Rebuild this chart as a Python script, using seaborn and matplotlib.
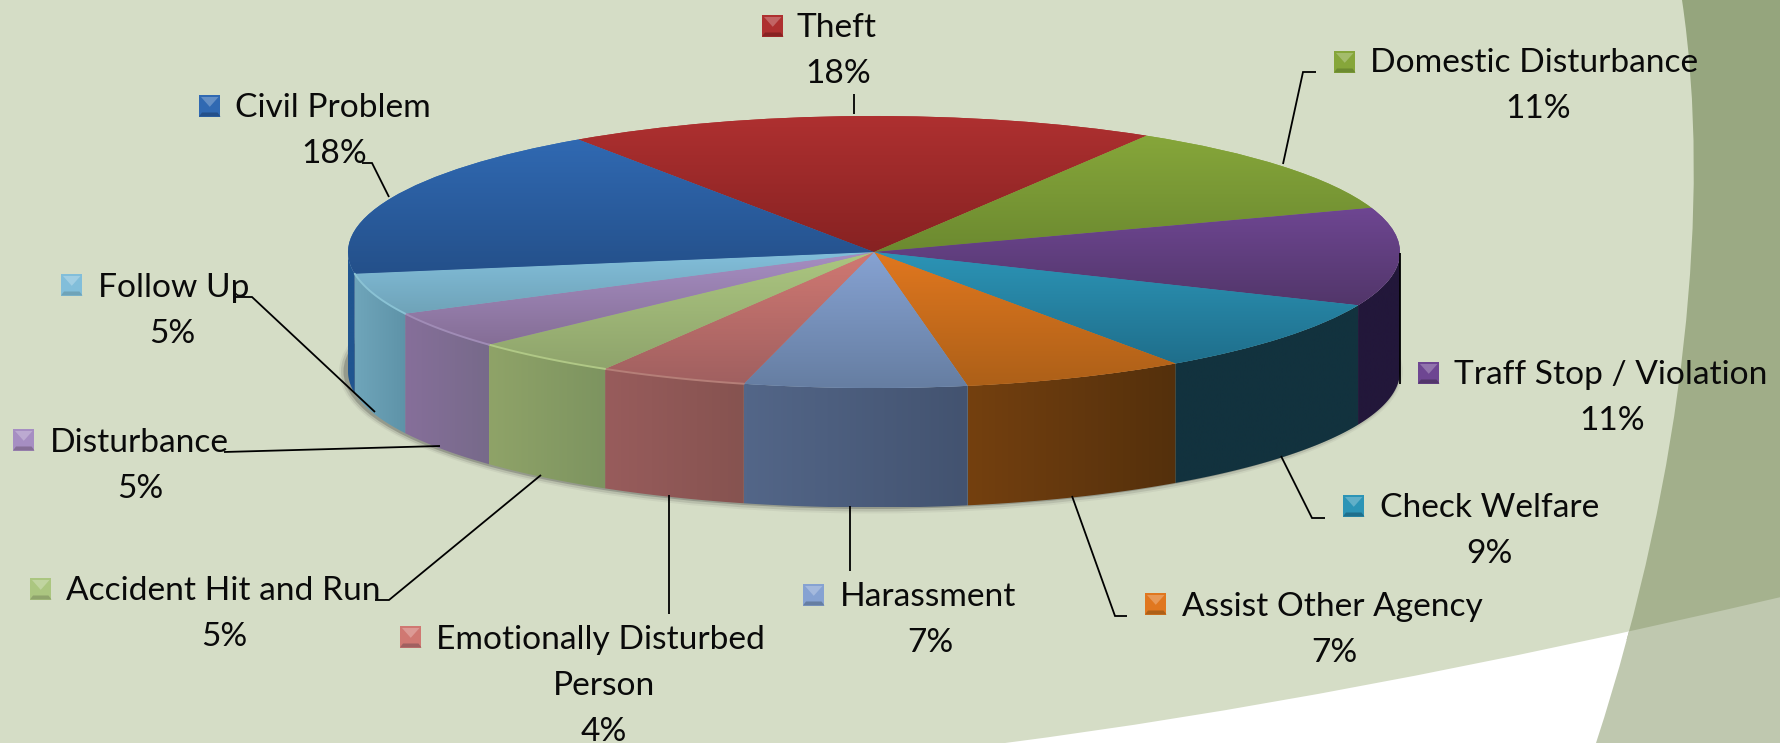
import numpy as np
import matplotlib
matplotlib.use("Agg")
import matplotlib.pyplot as plt
import seaborn as sns
from matplotlib.path import Path
from matplotlib.patches import PathPatch, Ellipse, Rectangle, Polygon

# ---- data ----
categories = ["Theft", "Domestic Disturbance", "Traff Stop / Violation", "Check Welfare",
              "Assist Other Agency", "Harassment", "Emotionally Disturbed\nPerson",
              "Accident Hit and Run", "Disturbance", "Follow Up", "Civil Problem"]
shares = [18.17, 11.06, 11.67, 8.89, 6.86, 6.83, 4.56, 4.53, 4.44, 4.94, 18.05]
percent_labels = ["18%", "11%", "11%", "9%", "7%", "7%", "4%", "5%", "5%", "5%", "18%"]

# ---- styles ----
face_top = ["#AE3030", "#86A63A", "#6E4692", "#2C94B6", "#E0771F", "#86A2D2",
            "#D07872", "#ABC680", "#A68EC2", "#82BEDA", "#3069B2"]
face_bottom = ["#872222", "#6C8A30", "#52366A", "#1F6F8C", "#AD6018", "#667EA2",
               "#A06060", "#8FA46C", "#856E96", "#6FA3B8", "#24508A"]
wall_left = ["#872222", "#6C8A30", "#22173A", "#12323E", "#74400F", "#536688",
             "#985C5C", "#8FA368", "#866F9A", "#6FA5BA", "#205590"]
wall_right = ["#872222", "#6C8A30", "#22173A", "#12323E", "#54300C", "#435370",
              "#865350", "#7D9460", "#776A8A", "#5E93A8", "#205590"]
rim_light = {6: "#B57F78", 7: "#B0C886", 8: "#A08CB6", 9: "#8AC2D4"}

W, H = 1781, 743
CX, CY, RX, RY, DEPTH = 874, 252, 526, 136, 119.5
START = -34.2
FONT_PX = 33.5
INK = "#0A0A0A"

# label layout in pixels: marker left, marker top, text left, first line y, centre x of block
layout = [
    (762, 15, 797, 28, 838),
    (1334, 51, 1370, 63, 1538),
    (1418, 362, 1454, 375, 1612),
    (1343, 495, 1380, 508, 1489),
    (1145, 593, 1182, 607, 1334),
    (803, 584, 840, 597, 930),
    (400, 626, 436, 640, 604),
    (30, 578, 66, 591, 224),
    (13, 429, 50, 443, 140),
    (61, 274, 98, 288, 172),
    (199, 95, 235, 108, 334),
]
leaders = [
    [(854, 94), (854, 114)],
    [(1316, 72), (1303, 72), (1283, 164)],
    [(1400, 253), (1400, 384)],
    [(1281, 456), (1312, 518), (1325, 518)],
    [(1072, 496), (1115, 616), (1127, 616)],
    [(850, 506), (850, 571)],
    [(669, 495), (669, 614)],
    [(375, 600), (389, 600), (541, 475)],
    [(224, 452), (440, 446)],
    [(236, 297), (252, 297), (375, 412)],
    [(362, 163), (372, 163), (389, 197)],
]

sns.set_theme(style="white")
plt.rcParams["font.family"] = ["Lato", "DejaVu Sans"]

fig = plt.figure(figsize=(W / 100, H / 100), dpi=100, facecolor="white")


def full_axes(z):
    a = fig.add_axes([0, 0, 1, 1], zorder=z)
    a.set_xlim(0, W)
    a.set_ylim(H, 0)
    a.axis("off")
    a.patch.set_alpha(0)
    return a


# ---- background ----
bg = full_axes(0)
upper = Path([(0, 0), (W, 0), (W, 597), (1340, 700), (1005, H), (0, H), (0, 0)],
             [Path.MOVETO, Path.LINETO, Path.LINETO, Path.CURVE3, Path.CURVE3, Path.LINETO, Path.CLOSEPOLY])
lower = Path([(W, 597), (1340, 700), (1005, H), (W, H), (W, 597)],
             [Path.MOVETO, Path.CURVE3, Path.CURVE3, Path.LINETO, Path.CLOSEPOLY])
band = Path([(1682, 0), (1712, 200), (1685, 470), (1596, H), (W, H), (W, 0), (1682, 0)],
            [Path.MOVETO, Path.CURVE4, Path.CURVE4, Path.CURVE4, Path.LINETO, Path.LINETO, Path.CLOSEPOLY])
bg.add_patch(PathPatch(upper, fc="#D5DDC6", ec="none"))
band_patch = PathPatch(band, fc="none", ec="none")
bg.add_patch(band_patch)
band_cmap = sns.blend_palette(["#95A57D", "#A7B390"], 64, as_cmap=True)
im = bg.imshow(np.linspace(0, 1, 64)[:, None], extent=(1590, W, 640, 0), cmap=band_cmap, aspect="auto", zorder=1)
im.set_clip_path(band_patch)
low_patch = PathPatch(lower, fc="#BFC8AF", ec="none", zorder=2)
bg.add_patch(low_patch)
low_patch.set_clip_path(band_patch)
bg.set_xlim(0, W)
bg.set_ylim(H, 0)

# ---- soft shadow under the pie ----
shadow = full_axes(1)
for grow, alpha in [(6, 0.06), (4, 0.12), (1.5, 0.25)]:
    shadow.add_patch(Ellipse((CX - 3, CY + DEPTH), 2 * (RX + grow), 2 * (RY + grow), fc="#303030",
                             ec="none", alpha=alpha))

# ---- pie ----
depth = DEPTH / RY
ax = fig.add_axes([(CX - RX) / W, 1 - (CY + RY + DEPTH) / H, 2 * RX / W, (2 * RY + DEPTH) / H], zorder=2)
wedges, _ = ax.pie(shares, startangle=90 - START, counterclock=False, radius=1,
                   colors=sns.color_palette(face_top), wedgeprops={"linewidth": 0})
ax.set_aspect("auto")

cum = START + np.cumsum([0] + shares) * 3.6
for i, w in enumerate(wedges):
    # side wall, only the part of the slice that faces the viewer
    t0, t1 = max(cum[i], 90), min(cum[i + 1], 270)
    if t1 > t0:
        t = np.radians(np.linspace(t0, t1, 80))
        xs, ys = np.sin(t), np.cos(t)
        poly = Polygon(np.r_[np.c_[xs, ys], np.c_[xs[::-1], ys[::-1] - depth]], fc="none", ec="none")
        ax.add_patch(poly)
        cm = sns.blend_palette([wall_left[i], wall_right[i]], 64, as_cmap=True)
        g = ax.imshow(np.linspace(0, 1, 64)[None, :], extent=(xs.min(), xs.max(), -1 - depth, 1),
                      cmap=cm, aspect="auto", origin="lower", zorder=1, interpolation="bilinear")
        g.set_clip_path(poly)
    # top face gradient
    w.set_zorder(2)
    t = np.radians(np.linspace(cum[i], cum[i + 1], 80))
    ymax = max(np.cos(t).max(), 0)
    ymin = min(np.cos(t).min(), 0)
    cm = sns.blend_palette([face_bottom[i], face_top[i]], 64, as_cmap=True)
    g = ax.imshow(np.linspace(0, 1, 64)[:, None], extent=(-1, 1, ymin, ymax), cmap=cm, aspect="auto",
                  origin="lower", zorder=3, interpolation="bilinear")
    g.set_clip_path(w)
    if i in rim_light:
        ax.plot(np.sin(t), np.cos(t), color=rim_light[i], lw=1.4, zorder=4)
ax.set_xlim(-1, 1)
ax.set_ylim(-1 - depth, 1)
ax.axis("off")

# ---- labels ----
lab = full_axes(3)
for i, (name, pct, (mx, my, tx, ty, cx)) in enumerate(zip(categories, percent_labels, layout)):
    s = 21.5
    lab.add_patch(Rectangle((mx, my), s, s, fc=face_top[i], ec="none"))
    lab.add_patch(Polygon([(mx, my + s), (mx + s, my + s), (mx + s - 3, my + s - 4), (mx + 3, my + s - 4)],
                          fc=face_bottom[i], ec="none"))
    lab.add_patch(Polygon([(mx + 2, my + 2), (mx + s - 2, my + 2), (mx + s / 2, my + s * 0.55)],
                          fc=sns.blend_palette([face_top[i], "#FFFFFF"], 5)[1], ec="none"))
    lines = name.split("\n")
    lab.text(tx, ty, lines[0], fontsize=FONT_PX * 0.72, color=INK, ha="left", va="center")
    y = ty
    for extra in lines[1:]:
        y += 46
        lab.text(cx, y, extra, fontsize=FONT_PX * 0.72, color=INK, ha="center", va="center")
    lab.text(cx, y + 46, pct, fontsize=FONT_PX * 0.72, color=INK, ha="center", va="center")
for pts in leaders:
    lab.plot(*zip(*pts), color="black", lw=1.3, solid_capstyle="butt", solid_joinstyle="miter")

fig.savefig("out.png", dpi=100)
